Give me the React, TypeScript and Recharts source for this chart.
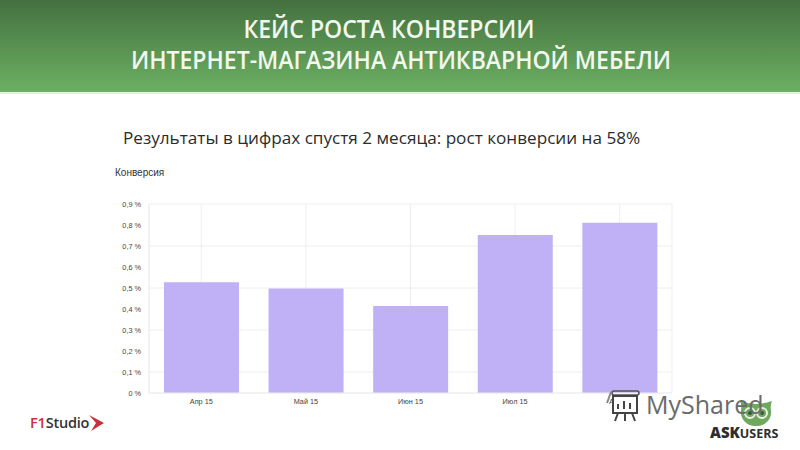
import React from "react";
import { BarChart, Bar, XAxis, YAxis, CartesianGrid } from "recharts";

const categories = ["Апр 15", "Май 15", "Июн 15", "Июл 15", "Авг 15"];
const conversion = [0.527, 0.498, 0.414, 0.752, 0.811];
const yTicks = [0, 0.1, 0.2, 0.3, 0.4, 0.5, 0.6, 0.7, 0.8, 0.9];
const titleLines = ["КЕЙС РОСТА КОНВЕРСИИ", "ИНТЕРНЕТ-МАГАЗИНА АНТИКВАРНОЙ МЕБЕЛИ"];
const titleOffsets = [-11, 1];
const subtitle = "Результаты в цифрах спустя 2 месяца: рост конверсии на 58%";

const rows = categories.map((c, i) => ({ month: c, value: conversion[i] }));
const fmt = (v: number) => (v === 0 ? "0 %" : `${v.toFixed(1).replace(".", ",")} %`);
const abs = (s: React.CSSProperties): React.CSSProperties => ({ position: "absolute", whiteSpace: "nowrap", ...s });

export default function App() {
  return (
    <div style={{ position: "fixed", left: 0, top: 0, width: 800, height: 450, background: "#fff", overflow: "hidden" }}>
      <div style={abs({ left: 0, top: 0, width: 800, height: 92, background: "linear-gradient(#44713f, #6cb063)", borderBottom: "2px solid #e6f0e4" })} />
      {titleLines.map((t, i) => (
        <div key={t} style={abs({ left: titleOffsets[i], width: 800, top: 13 + i * 31, textAlign: "center", color: "#f2f8ef", fontFamily: "'Open Sans'", fontWeight: 600, fontSize: 24.5, lineHeight: "31px", transform: "scaleX(0.94)" })}>{t}</div>
      ))}
      <div style={abs({ left: 123, top: 127, color: "#2b2b2b", fontFamily: "'Open Sans'", fontSize: 17.15, lineHeight: "22px" })}>{subtitle}</div>
      <div style={abs({ left: 115, top: 166, color: "#333", fontFamily: "'Liberation Sans'", fontSize: 10, lineHeight: "13px" })}>Конверсия</div>

      <div style={abs({ left: 0, top: 0 })}>
        <BarChart width={800} height={450} data={rows} barCategoryGap="14.3%" margin={{ top: 204, right: 128, bottom: 27, left: 101 }}>
          <CartesianGrid stroke="#eeeeee" strokeWidth={1} />
          <XAxis dataKey="month" axisLine={{ stroke: "#eeeeee" }} tickLine={false} height={30} tickMargin={0}
            tick={{ fontSize: 7.3, fill: "#444", fontFamily: "'Liberation Sans'" }} />
          <YAxis domain={[0, 0.9]} ticks={yTicks} tickFormatter={fmt} width={48} axisLine={{ stroke: "#eeeeee" }} tickLine={false} tickMargin={2}
            tick={{ fontSize: 7.3, fill: "#444", fontFamily: "'Liberation Sans'" }} />
          <Bar dataKey="value" fill="#c0b0f5" isAnimationActive={false} />
        </BarChart>
      </div>

      {/* F1Studio logo */}
      <div style={abs({ left: 30, top: 414, color: "#333", fontFamily: "'Open Sans'", fontWeight: 600, fontSize: 14.5, lineHeight: "18px", letterSpacing: -0.2 })}>
        <span style={{ color: "#c8313a" }}>F1</span>Studio
      </div>
      <svg style={abs({ left: 88, top: 414 })} width="17" height="18" viewBox="0 0 17 18">
        <path d="M1 1 L16 9 L3 17 L8 9 Z" fill="#c8313a" />
      </svg>

      {/* AskUsers logo */}
      <svg style={abs({ left: 738, top: 398 })} width="36" height="30" viewBox="0 0 36 30">
        <path d="M2 3 Q10 6 18 6 Q26 6 34 3 Q32 8 33 12 A14 14 0 0 1 18 28 A14 14 0 0 1 3 12 Q4 8 2 3Z" fill="#6fa75e" />
        <circle cx="12" cy="15" r="5" fill="none" stroke="#e8f2e2" strokeWidth="2" /><circle cx="24" cy="15" r="5" fill="none" stroke="#e8f2e2" strokeWidth="2" />
        <circle cx="12" cy="15" r="2" fill="#33592c" /><circle cx="24" cy="15" r="2" fill="#33592c" />
      </svg>
      <div style={abs({ left: 710, top: 423, color: "#2e2e2e", fontFamily: "'Open Sans'", fontWeight: 800, fontSize: 15, lineHeight: "18px" })}>
        ASK<span style={{ fontSize: 12.5, fontWeight: 700 }}>USERS</span>
      </div>

      {/* MyShared watermark */}
      <svg style={abs({ left: 606, top: 388 })} width="40" height="36" viewBox="0 0 40 36">
        <rect x="6" y="3" width="27" height="4" rx="2" fill="none" stroke="#555" strokeWidth="1.6" />
        <rect x="7" y="8" width="24" height="17" fill="#fff" stroke="#444" strokeWidth="2" />
        <path d="M12 21v-5M18 21v-8M24 21v-6M12 25l-3 8M19 25v8M26 25l3 8" stroke="#444" strokeWidth="2" />
        <path d="M1 15 L5 4" stroke="#888" strokeWidth="2" />
      </svg>
      <div style={abs({ left: 646, top: 387, color: "#6a6a6a", fontFamily: "'Open Sans'", fontSize: 25, lineHeight: "34px" })}>MyShared</div>
    </div>
  );
}
